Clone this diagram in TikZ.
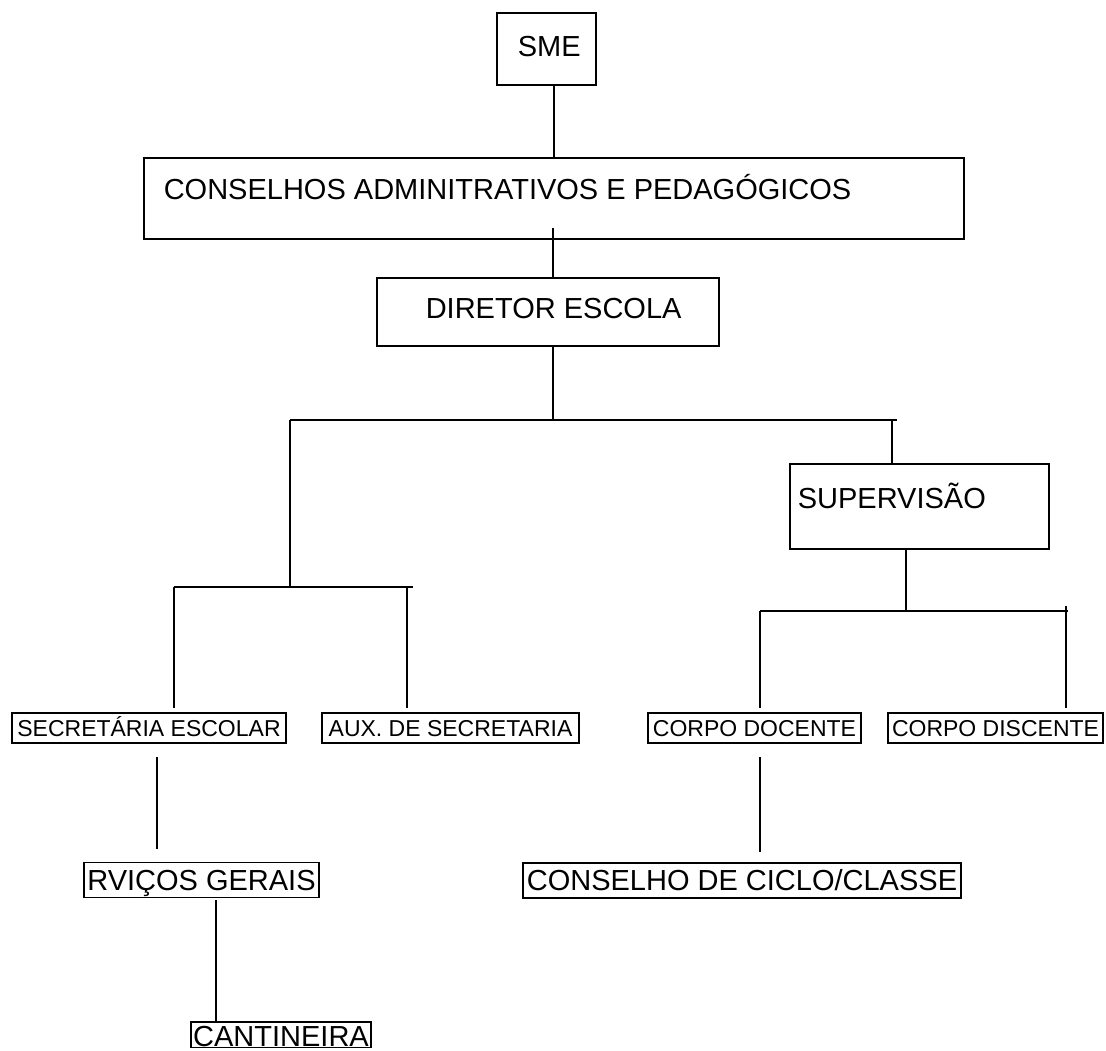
\documentclass[tikz,border=0pt]{standalone}
\usepackage{fontspec}
\setmainfont{Liberation Sans}
\newcommand\bigf{\fontsize{21.75pt}{26pt}\selectfont}
\newcommand\smallf{\fontsize{17.25pt}{20pt}\selectfont}
\begin{document}
\begin{tikzpicture}[x=0.75pt,y=-0.75pt,line width=1.2pt,
  frame/.style={draw, inner sep=0pt, anchor=north west},
  lab/.style={anchor=base west, inner sep=0pt, font=\bigf},
  tagbig/.style={draw, font=\bigf, inner xsep=1.5pt, inner ysep=0pt, text height=20.9pt, text depth=5.3pt},
  tagsmall/.style={draw, font=\smallf, inner xsep=1.5pt, inner ysep=0pt, text height=17.4pt, text depth=5.1pt}]
\useasboundingbox (0,0) rectangle (1106,1050);
% top boxes
\node[frame, minimum width={99*0.75pt}, minimum height={72*0.75pt}] (sme) at (496,12) {};
\node[lab] (smet) at (517,56) {SME};
\node[frame, minimum width={820*0.75pt}, minimum height={81*0.75pt}] (cons) at (143,157) {};
\node[lab] (const) at (163,199) {CONSELHOS ADMINITRATIVOS E PEDAGÓGICOS};
\node[frame, minimum width={342*0.75pt}, minimum height={68*0.75pt}] (dir) at (376,277) {};
\node[lab] (dirt) at (425,318) {DIRETOR ESCOLA};
\node[frame, minimum width={259*0.75pt}, minimum height={85*0.75pt}] (sup) at (789,463) {};
\node[lab] (supt) at (797,508) {SUPERVISÃO};
% lower boxes
\node[tagsmall, minimum width={274*0.75pt}] (sec) at (149,728) {SECRETÁRIA ESCOLAR};
\node[tagsmall, minimum width={257*0.75pt}] (aux) at (450.5,728) {AUX. DE SECRETARIA};
\node[tagsmall, minimum width={213*0.75pt}] (doc) at (754.5,728) {CORPO DOCENTE};
\node[tagsmall, minimum width={215*0.75pt}] (dis) at (995.5,728) {CORPO DISCENTE};
\node[tagbig, minimum width={235*0.75pt}] (serv) at (201.5,880) {RVIÇOS GERAIS};
\node[tagbig, minimum width={438*0.75pt}] (cicl) at (742,880.5) {CONSELHO DE CICLO/CLASSE};
\node[tagbig, anchor=north, text height=18.2pt, text depth=1pt, minimum width={180*0.75pt}] (cant) at (281,1021) {CANTINEIRA};
% coordinates
\coordinate (c1) at (553,228);
\coordinate (j1) at (553,420);
\coordinate (b1L) at (290,420);
\coordinate (b1R) at (897,420);
\coordinate (supin) at (892,420);
\coordinate (b2L) at (174,587);
\coordinate (b2M) at (290,587);
\coordinate (b2R) at (413,587);
\coordinate (e2L) at (174,708);
\coordinate (d2R) at (407,587);
\coordinate (e2R) at (407,708);
\coordinate (b3M) at (906,611);
\coordinate (b3L) at (760,611);
\coordinate (b3R) at (1068,611);
\coordinate (e3L) at (760,708);
\coordinate (d3R) at (1066,606);
\coordinate (e3R) at (1066,708);
\coordinate (s1) at (157,757);
\coordinate (s2) at (157,849);
\coordinate (g1) at (216,900);
\coordinate (k1) at (760,757);
\coordinate (k2) at (760,852);
% connectors
\draw (cons.north |- sme.south) -- (cons.north);
\draw (c1) -- (c1 |- dir.north);
\draw (c1 |- dir.south) -- (j1);
\draw (b1L) -- (b1R);
\draw (b1L) -- (b2M);
\draw (supin) -- (supin |- sup.north);
\draw (b3M |- sup.south) -- (b3M);
\draw (b3L) -- (b3R);
\draw (b3L) -- (e3L);
\draw (d3R) -- (e3R);
\draw (b2L) -- (b2R);
\draw (b2L) -- (e2L);
\draw (d2R) -- (e2R);
\draw (s1) -- (s2);
\draw (g1) -- (g1 |- cant.north);
\draw (k1) -- (k2);
\end{tikzpicture}
\end{document}
